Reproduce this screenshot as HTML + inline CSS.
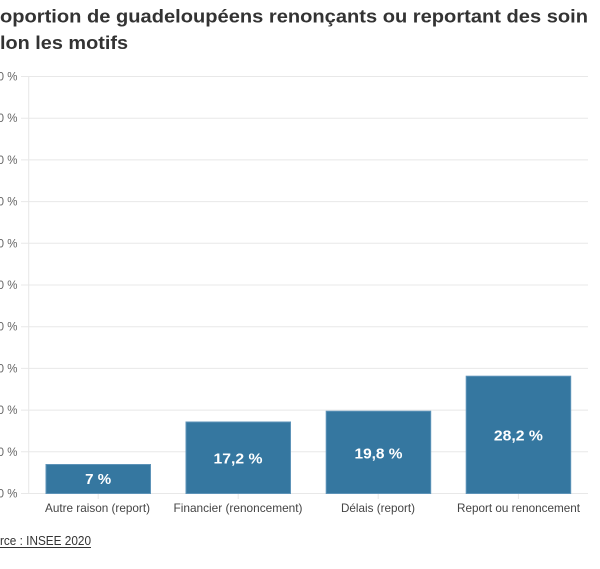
<!DOCTYPE html>
<html>
<head>
<meta charset="utf-8">
<title>Proportion de guadeloupéens renonçants ou reportant des soins selon les motifs</title>
<style>
html,body{margin:0;padding:0;background:#fff;width:600px;height:569px;overflow:hidden;}
svg{display:block;font-family:"Liberation Sans",Arial,sans-serif;}
</style>
</head>
<body>
<svg width="600" height="569" viewBox="0 0 600 569" xmlns="http://www.w3.org/2000/svg">
  <rect width="600" height="569" fill="#fff"/>
  <!-- Title -->
  <g font-weight="bold" font-size="18.5" fill="#333">
    <text x="0" y="22.5" text-anchor="end">Pr</text>
    <text x="0" y="22.5" textLength="588" lengthAdjust="spacingAndGlyphs">oportion de guadeloupéens renonçants ou reportant des soin</text>
    <text x="0" y="49" text-anchor="end">se</text>
    <text x="0" y="49" textLength="128" lengthAdjust="spacingAndGlyphs">lon les motifs</text>
  </g>

  <!-- Gridlines -->
  <g stroke="#e8e8e8" stroke-width="1">
    <line x1="21" y1="76.5" x2="588" y2="76.5"/>
    <line x1="21" y1="118.2" x2="588" y2="118.2"/>
    <line x1="21" y1="159.9" x2="588" y2="159.9"/>
    <line x1="21" y1="201.6" x2="588" y2="201.6"/>
    <line x1="21" y1="243.3" x2="588" y2="243.3"/>
    <line x1="21" y1="285" x2="588" y2="285"/>
    <line x1="21" y1="326.7" x2="588" y2="326.7"/>
    <line x1="21" y1="368.4" x2="588" y2="368.4"/>
    <line x1="21" y1="410.1" x2="588" y2="410.1"/>
    <line x1="21" y1="451.8" x2="588" y2="451.8"/>
    <line x1="21" y1="493.5" x2="588" y2="493.5"/>
    <line x1="28.7" y1="76" x2="28.7" y2="493.5"/>
    <line x1="98.2" y1="493.5" x2="98.2" y2="499"/>
    <line x1="238.2" y1="493.5" x2="238.2" y2="499"/>
    <line x1="378.2" y1="493.5" x2="378.2" y2="499"/>
    <line x1="518.4" y1="493.5" x2="518.4" y2="499"/>
  </g>

  <!-- Y labels -->
  <g font-size="11.5" fill="#666" text-anchor="end">
    <text x="17.5" y="80.5">100 %</text>
    <text x="17.5" y="122.2">90 %</text>
    <text x="17.5" y="163.9">80 %</text>
    <text x="17.5" y="205.6">70 %</text>
    <text x="17.5" y="247.3">60 %</text>
    <text x="17.5" y="289">50 %</text>
    <text x="17.5" y="330.7">40 %</text>
    <text x="17.5" y="372.4">30 %</text>
    <text x="17.5" y="414.1">20 %</text>
    <text x="17.5" y="455.8">10 %</text>
    <text x="17.5" y="497.5">0 %</text>
  </g>

  <!-- Bars -->
  <g fill="#3577a0" stroke="#5d93b8" stroke-width="1">
    <rect x="46" y="464.5" width="104.5" height="29"/>
    <rect x="186" y="422" width="104.5" height="71.5"/>
    <rect x="326.2" y="411.2" width="104.5" height="82.3"/>
    <rect x="466.2" y="376.2" width="104.5" height="117.3"/>
  </g>

  <!-- Bar labels -->
  <g font-weight="bold" font-size="15" fill="#fff" text-anchor="middle">
    <text x="98.2" y="484" textLength="26" lengthAdjust="spacingAndGlyphs">7 %</text>
    <text x="238" y="463.5" textLength="49" lengthAdjust="spacingAndGlyphs">17,2 %</text>
    <text x="378.5" y="458.3" textLength="48" lengthAdjust="spacingAndGlyphs">19,8 %</text>
    <text x="518.4" y="440.7" textLength="49" lengthAdjust="spacingAndGlyphs">28,2 %</text>
  </g>

  <!-- X labels -->
  <g font-size="12" fill="#444">
    <text x="45" y="512" textLength="105" lengthAdjust="spacingAndGlyphs">Autre raison (report)</text>
    <text x="173.5" y="512" textLength="129" lengthAdjust="spacingAndGlyphs">Financier (renoncement)</text>
    <text x="341" y="512" textLength="74" lengthAdjust="spacingAndGlyphs">Délais (report)</text>
    <text x="457" y="512" textLength="123" lengthAdjust="spacingAndGlyphs">Report ou renoncement</text>
  </g>

  <!-- Source -->
  <g font-size="13" fill="#333">
    <text x="0" y="545" text-anchor="end">Sou</text>
    <text x="0" y="545" textLength="91" lengthAdjust="spacingAndGlyphs">rce : INSEE 2020</text>
    <line x1="0" y1="547.5" x2="91" y2="547.5" stroke="#333" stroke-width="1"/>
  </g>
</svg>
</body>
</html>
